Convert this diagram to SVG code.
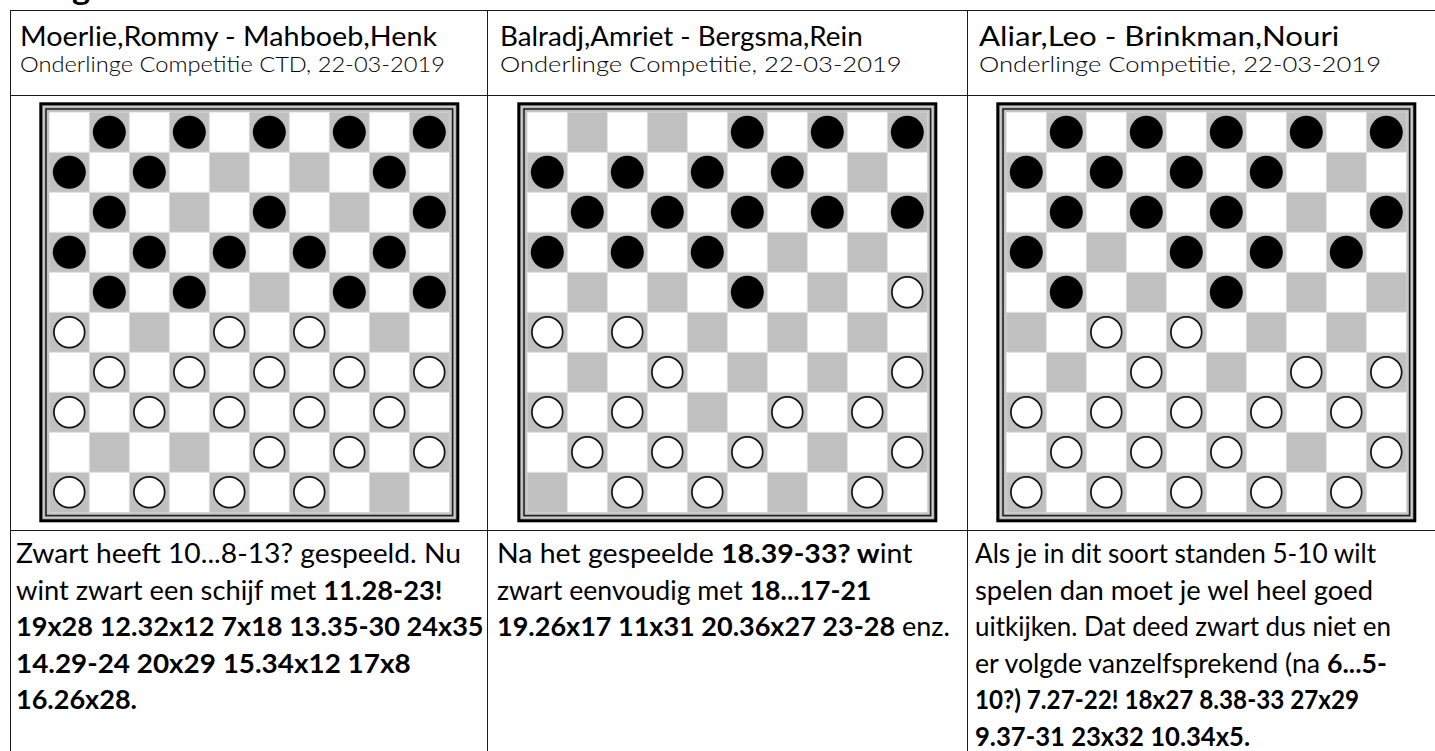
<svg xmlns="http://www.w3.org/2000/svg" xmlns:xlink="http://www.w3.org/1999/xlink" width="1435" height="751" viewBox="0 0 1435 751">
<style>
  .grid line { stroke: #1a1a1a; stroke-width: 1; }
  .h1 { font-family: Lato, "Open Sans", "Liberation Sans", sans-serif; font-size: 26px; fill: #000; }
  .h2 { font-family: Lato, "Open Sans", "Liberation Sans", sans-serif; font-size: 21.5px; font-weight: 300; fill: #000; }
  .tx { font-family: Lato, "Open Sans", "Liberation Sans", sans-serif; font-size: 27px; fill: #000; }
  .b { font-weight: bold; }
  .top { font-family: Lato, "Open Sans", "Liberation Sans", sans-serif; font-size: 30px; font-weight: bold; fill: #000; }
</style>
<defs>
  <g id="board">
    <rect x="-10" y="-10" width="420" height="420" fill="#000"/>
    <rect x="-7" y="-7" width="414" height="414" fill="#a6a6a6"/>
    <rect x="-5.5" y="-5.5" width="411" height="411" fill="none" stroke="#dcdcdc" stroke-width="1"/>
    <rect x="-4" y="-4" width="408" height="408" fill="#1e1e1e"/>
    <rect x="-2.5" y="-2.5" width="405" height="405" fill="#c4c4c4"/>
    <rect x="0" y="0" width="400" height="400" fill="#fff"/>
    <path fill="#c0c0c0" d="M40 0h40v40h-40zm80 0h40v40h-40zm80 0h40v40h-40zm80 0h40v40h-40zm80 0h40v40h-40z
      M0 40h40v40h-40zm80 0h40v40h-40zm80 0h40v40h-40zm80 0h40v40h-40zm80 0h40v40h-40z
      M40 80h40v40h-40zm80 0h40v40h-40zm80 0h40v40h-40zm80 0h40v40h-40zm80 0h40v40h-40z
      M0 120h40v40h-40zm80 0h40v40h-40zm80 0h40v40h-40zm80 0h40v40h-40zm80 0h40v40h-40z
      M40 160h40v40h-40zm80 0h40v40h-40zm80 0h40v40h-40zm80 0h40v40h-40zm80 0h40v40h-40z
      M0 200h40v40h-40zm80 0h40v40h-40zm80 0h40v40h-40zm80 0h40v40h-40zm80 0h40v40h-40z
      M40 240h40v40h-40zm80 0h40v40h-40zm80 0h40v40h-40zm80 0h40v40h-40zm80 0h40v40h-40z
      M0 280h40v40h-40zm80 0h40v40h-40zm80 0h40v40h-40zm80 0h40v40h-40zm80 0h40v40h-40z
      M40 320h40v40h-40zm80 0h40v40h-40zm80 0h40v40h-40zm80 0h40v40h-40zm80 0h40v40h-40z
      M0 360h40v40h-40zm80 0h40v40h-40zm80 0h40v40h-40zm80 0h40v40h-40zm80 0h40v40h-40z"/>
    <path fill="none" stroke="#e0e0e0" stroke-width="1" d="M0 40H400M0 80H400M0 120H400M0 160H400M0 200H400M0 240H400M0 280H400M0 320H400M0 360H400M40 0V400M80 0V400M120 0V400M160 0V400M200 0V400M240 0V400M280 0V400M320 0V400M360 0V400"/>
  </g>
  <circle id="bp" cx="0" cy="0" r="16.5" fill="#000"/>
  <circle id="wp" cx="0" cy="0" r="15.4" fill="#fff" stroke="#111" stroke-width="1.7"/>
</defs>

<rect width="1435" height="751" fill="#fff"/>

<text class="top" x="20" y="0" textLength="195" lengthAdjust="spacingAndGlyphs">Diagrammen</text>

<g id="grid" class="grid">
  <line x1="10" y1="10.5" x2="1435" y2="10.5"/>
  <line x1="10" y1="95.5" x2="1435" y2="95.5"/>
  <line x1="10" y1="530.5" x2="1435" y2="530.5"/>
  <line x1="10.5" y1="10" x2="10.5" y2="751"/>
  <line x1="487.5" y1="10" x2="487.5" y2="751"/>
  <line x1="967.5" y1="10" x2="967.5" y2="751"/>
</g>

<g id="connectors"></g>

<g id="game1">
  <text class="h1" x="20" y="46" textLength="417" lengthAdjust="spacingAndGlyphs">Moerlie,Rommy - Mahboeb,Henk</text>
  <text class="h2" x="20" y="72" textLength="425" lengthAdjust="spacingAndGlyphs">Onderlinge Competitie CTD, 22-03-2019</text>
  <g id="board1" transform="translate(49.3,112.3)">
    <use xlink:href="#board"/>
    <use xlink:href="#bp" x="60" y="20"/><use xlink:href="#bp" x="140" y="20"/><use xlink:href="#bp" x="220" y="20"/><use xlink:href="#bp" x="300" y="20"/><use xlink:href="#bp" x="380" y="20"/>
    <use xlink:href="#bp" x="20" y="60"/><use xlink:href="#bp" x="100" y="60"/><use xlink:href="#bp" x="340" y="60"/>
    <use xlink:href="#bp" x="60" y="100"/><use xlink:href="#bp" x="220" y="100"/><use xlink:href="#bp" x="380" y="100"/>
    <use xlink:href="#bp" x="20" y="140"/><use xlink:href="#bp" x="100" y="140"/><use xlink:href="#bp" x="180" y="140"/><use xlink:href="#bp" x="260" y="140"/><use xlink:href="#bp" x="340" y="140"/>
    <use xlink:href="#bp" x="60" y="180"/><use xlink:href="#bp" x="140" y="180"/><use xlink:href="#bp" x="300" y="180"/><use xlink:href="#bp" x="380" y="180"/>
    <use xlink:href="#wp" x="20" y="220"/><use xlink:href="#wp" x="180" y="220"/><use xlink:href="#wp" x="260" y="220"/>
    <use xlink:href="#wp" x="60" y="260"/><use xlink:href="#wp" x="140" y="260"/><use xlink:href="#wp" x="220" y="260"/><use xlink:href="#wp" x="300" y="260"/><use xlink:href="#wp" x="380" y="260"/>
    <use xlink:href="#wp" x="20" y="300"/><use xlink:href="#wp" x="100" y="300"/><use xlink:href="#wp" x="180" y="300"/><use xlink:href="#wp" x="260" y="300"/><use xlink:href="#wp" x="340" y="300"/>
    <use xlink:href="#wp" x="220" y="340"/><use xlink:href="#wp" x="300" y="340"/><use xlink:href="#wp" x="380" y="340"/>
    <use xlink:href="#wp" x="20" y="380"/><use xlink:href="#wp" x="100" y="380"/><use xlink:href="#wp" x="180" y="380"/><use xlink:href="#wp" x="260" y="380"/>
  </g>
  <text class="tx" x="16" y="563" textLength="445" lengthAdjust="spacingAndGlyphs">Zwart heeft 10...8-13? gespeeld. Nu</text>
  <text class="tx" x="16" y="599.5" textLength="426.5" lengthAdjust="spacingAndGlyphs">wint zwart een schijf met <tspan class="b">11.28-23!</tspan></text>
  <text class="tx b" x="16" y="636" textLength="467.6" lengthAdjust="spacingAndGlyphs">19x28 12.32x12 7x18 13.35-30 24x35</text>
  <text class="tx b" x="16" y="672.5" textLength="394.6" lengthAdjust="spacingAndGlyphs">14.29-24 20x29 15.34x12 17x8</text>
  <text class="tx b" x="16" y="709" textLength="121" lengthAdjust="spacingAndGlyphs">16.26x28.</text>
</g>

<g id="game2">
  <text class="h1" x="500" y="46" textLength="362.7" lengthAdjust="spacingAndGlyphs">Balradj,Amriet - Bergsma,Rein</text>
  <text class="h2" x="500" y="72" textLength="401.7" lengthAdjust="spacingAndGlyphs">Onderlinge Competitie, 22-03-2019</text>
  <g id="board2" transform="translate(527.3,112.3)">
    <use xlink:href="#board"/>
    <use xlink:href="#bp" x="220" y="20"/><use xlink:href="#bp" x="300" y="20"/><use xlink:href="#bp" x="380" y="20"/>
    <use xlink:href="#bp" x="20" y="60"/><use xlink:href="#bp" x="100" y="60"/><use xlink:href="#bp" x="180" y="60"/><use xlink:href="#bp" x="260" y="60"/>
    <use xlink:href="#bp" x="60" y="100"/><use xlink:href="#bp" x="140" y="100"/><use xlink:href="#bp" x="220" y="100"/><use xlink:href="#bp" x="300" y="100"/><use xlink:href="#bp" x="380" y="100"/>
    <use xlink:href="#bp" x="20" y="140"/><use xlink:href="#bp" x="100" y="140"/><use xlink:href="#bp" x="180" y="140"/>
    <use xlink:href="#bp" x="220" y="180"/>
    <use xlink:href="#wp" x="380" y="180"/>
    <use xlink:href="#wp" x="20" y="220"/><use xlink:href="#wp" x="100" y="220"/>
    <use xlink:href="#wp" x="140" y="260"/><use xlink:href="#wp" x="380" y="260"/>
    <use xlink:href="#wp" x="20" y="300"/><use xlink:href="#wp" x="100" y="300"/><use xlink:href="#wp" x="260" y="300"/><use xlink:href="#wp" x="340" y="300"/>
    <use xlink:href="#wp" x="60" y="340"/><use xlink:href="#wp" x="140" y="340"/><use xlink:href="#wp" x="220" y="340"/><use xlink:href="#wp" x="380" y="340"/>
    <use xlink:href="#wp" x="100" y="380"/><use xlink:href="#wp" x="180" y="380"/><use xlink:href="#wp" x="340" y="380"/>
  </g>
  <text class="tx" x="497" y="563" textLength="415.4" lengthAdjust="spacingAndGlyphs">Na het gespeelde <tspan class="b">18.39-33? w</tspan>int</text>
  <text class="tx" x="497" y="599.5" textLength="374.4" lengthAdjust="spacingAndGlyphs">zwart eenvoudig met <tspan class="b">18...17-21</tspan></text>
  <text class="tx" x="497" y="636"><tspan class="b">19.26x17 11x31 20.36x27 23-28</tspan> enz.</text>
</g>

<g id="game3">
  <text class="h1" x="979" y="46" textLength="360.3" lengthAdjust="spacingAndGlyphs">Aliar,Leo - Brinkman,Nouri</text>
  <text class="h2" x="979" y="72" textLength="402" lengthAdjust="spacingAndGlyphs">Onderlinge Competitie, 22-03-2019</text>
  <g id="board3" transform="translate(1006.3,112.3)">
    <use xlink:href="#board"/>
    <use xlink:href="#bp" x="60" y="20"/><use xlink:href="#bp" x="140" y="20"/><use xlink:href="#bp" x="220" y="20"/><use xlink:href="#bp" x="300" y="20"/><use xlink:href="#bp" x="380" y="20"/>
    <use xlink:href="#bp" x="20" y="60"/><use xlink:href="#bp" x="100" y="60"/><use xlink:href="#bp" x="180" y="60"/><use xlink:href="#bp" x="260" y="60"/>
    <use xlink:href="#bp" x="60" y="100"/><use xlink:href="#bp" x="140" y="100"/><use xlink:href="#bp" x="220" y="100"/><use xlink:href="#bp" x="380" y="100"/>
    <use xlink:href="#bp" x="20" y="140"/><use xlink:href="#bp" x="180" y="140"/><use xlink:href="#bp" x="260" y="140"/><use xlink:href="#bp" x="340" y="140"/>
    <use xlink:href="#bp" x="60" y="180"/><use xlink:href="#bp" x="220" y="180"/>
    <use xlink:href="#wp" x="100" y="220"/><use xlink:href="#wp" x="180" y="220"/>
    <use xlink:href="#wp" x="140" y="260"/><use xlink:href="#wp" x="300" y="260"/><use xlink:href="#wp" x="380" y="260"/>
    <use xlink:href="#wp" x="20" y="300"/><use xlink:href="#wp" x="100" y="300"/><use xlink:href="#wp" x="180" y="300"/><use xlink:href="#wp" x="260" y="300"/><use xlink:href="#wp" x="340" y="300"/>
    <use xlink:href="#wp" x="60" y="340"/><use xlink:href="#wp" x="140" y="340"/><use xlink:href="#wp" x="220" y="340"/><use xlink:href="#wp" x="380" y="340"/>
    <use xlink:href="#wp" x="20" y="380"/><use xlink:href="#wp" x="100" y="380"/><use xlink:href="#wp" x="180" y="380"/><use xlink:href="#wp" x="260" y="380"/><use xlink:href="#wp" x="340" y="380"/>
  </g>
  <text class="tx" x="975" y="563" textLength="401" lengthAdjust="spacingAndGlyphs">Als je in dit soort standen 5-10 wilt</text>
  <text class="tx" x="975" y="599.5" textLength="398" lengthAdjust="spacingAndGlyphs">spelen dan moet je wel heel goed</text>
  <text class="tx" x="975" y="636" textLength="416" lengthAdjust="spacingAndGlyphs">uitkijken. Dat deed zwart dus niet en</text>
  <text class="tx" x="975" y="672.5" textLength="412" lengthAdjust="spacingAndGlyphs">er volgde vanzelfsprekend (na <tspan class="b">6...5-</tspan></text>
  <text class="tx b" x="975" y="709" textLength="384" lengthAdjust="spacingAndGlyphs">10?) 7.27-22! 18x27 8.38-33 27x29</text>
  <text class="tx b" x="975" y="745.5" textLength="275" lengthAdjust="spacingAndGlyphs">9.37-31 23x32 10.34x5.</text>
</g>
</svg>
